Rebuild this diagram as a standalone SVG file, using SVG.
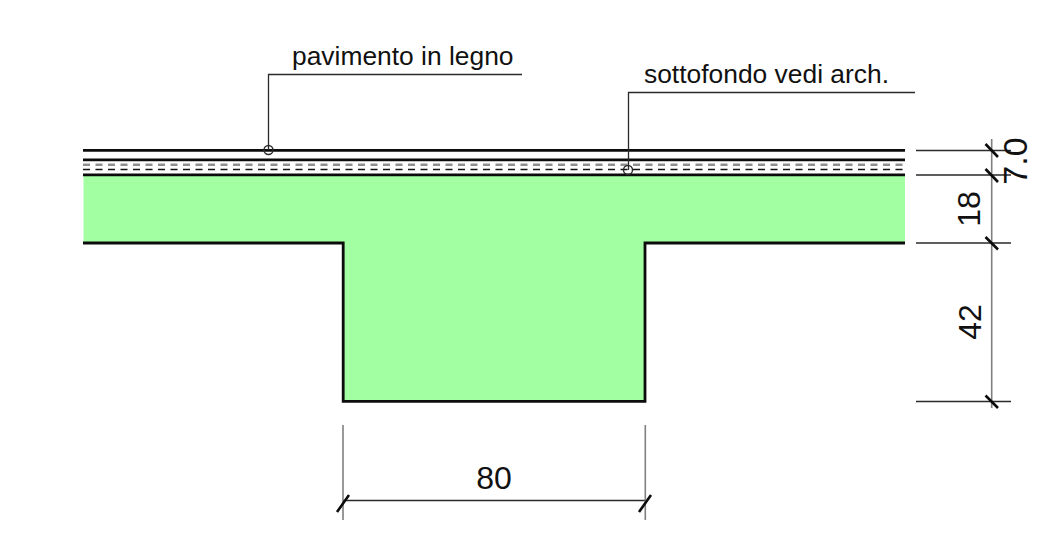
<svg xmlns="http://www.w3.org/2000/svg" width="1057" height="543" viewBox="0 0 1057 543">
<style>
text{font-family:"Liberation Sans",Arial,sans-serif;fill:#111}
.t{font-size:32px}
.l{font-size:26.400px}
.s{fill:none;stroke:#0c0c0c;stroke-width:2.800}
.d{fill:none;stroke:#2a2a2a;stroke-width:1.300}
.g{fill:none;stroke:#808080;stroke-width:1.600}
.k{fill:none;stroke:#0c0c0c;stroke-width:2.600}
</style>
<rect width="1057" height="543" fill="#fff"/>
<g id="section">
<path d="M83.500 175.500H905V243H645V401.500H343V243H83.500Z" fill="#a2ffa2"/>
<path class="s" d="M83 150.300H905M83 159.800H905M83 174.800H905M83 243H343.200V401.300H645V243H905"/>
<path fill="none" stroke="#8f8f8f" stroke-width="2.400" stroke-dasharray="7 5.500" d="M83 164.700H905"/>
<path fill="none" stroke="#111" stroke-width="1.600" stroke-dasharray="7 5.500" d="M83 169.500H905"/>
</g>
<g id="connectors">
<path class="d" d="M522 74.500H268.500V150M915 92.500H628.500V170"/>
<circle cx="268.500" cy="150" r="4.500" fill="none" stroke="#2a2a2a" stroke-width="1.400"/>
<circle cx="628" cy="170" r="4.500" fill="none" stroke="#2a2a2a" stroke-width="1.400"/>
<path class="d" d="M916 150.500H1011M916 175H1011M916 243H1011M916 401.500H1011M343 500.500H646"/>
<path class="g" d="M991.700 139V408M343 425V520M645.300 425V520"/>
<path class="k" d="M985.500 144L998 157M985.500 169L998 182M985.500 237L998 249.500M985.500 395.500L998 408M337 512L349 495M639 512L651 495"/>
</g>
<g id="labels">
<text class="l" x="292" y="65">pavimento in legno</text>
<text class="l" x="644" y="83">sottofondo vedi arch.</text>
<text class="t" x="494" y="489" text-anchor="middle">80</text>
<text class="t" transform="translate(981 322) rotate(-90)" text-anchor="middle">42</text>
<text class="t" transform="translate(980 209) rotate(-90)" text-anchor="middle">18</text>
<text class="t" style="font-size:34px" transform="translate(1027 161) rotate(-90)" text-anchor="middle">7.0</text>
</g>
</svg>
